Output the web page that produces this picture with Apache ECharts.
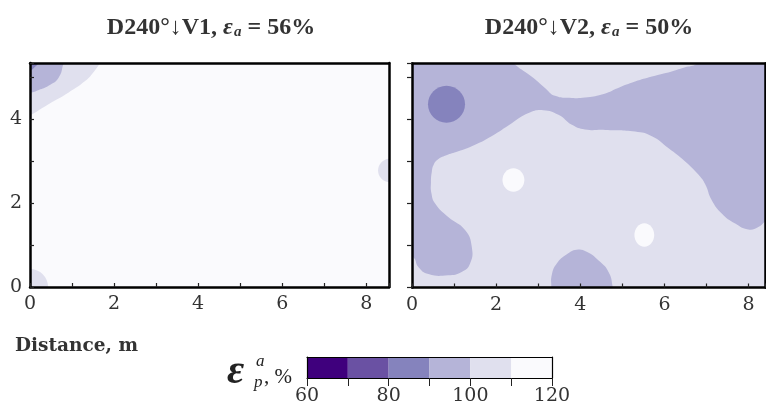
<!DOCTYPE html>
<html><head><meta charset="utf-8">
<script src="https://cdn.jsdelivr.net/npm/echarts@6/dist/echarts.min.js"></script>
<style>html,body{margin:0;padding:0;background:#fff}#c{width:766px;height:412px}</style>
</head><body><div id="c"></div>
<script>
// ---- data ----
const levels = [60, 70, 80, 90, 100, 110, 120];
const levelColors = ['#3f007d', '#6a51a3', '#8583bd', '#b5b4d8', '#e0e0ee', '#fafafd'];
const titles = ['D240°↓V1', 'D240°↓V2'];
const epsA = ['56%', '50%'];
const xMax = [8.54, 8.4];
const yMax = 5.33;

// panel V1 : background level index and contour regions (x, y in metres)
const v1Background = 5;
const v1Polygons = [
  {level: 4, points: [[-0.6,5.7],[1.8,5.7],[1.72,5.40],[1.67,5.33],[1.50,5.10],[1.31,4.90],[0.92,4.63],[0.44,4.35],[0.05,4.11],[-0.2,3.98],[-0.6,3.8]]},
  {level: 3, points: [[-0.6,5.7],[0.9,5.7],[0.82,5.40],[0.80,5.33],[0.68,4.98],[0.44,4.79],[0.21,4.69],[0,4.62],[-0.6,4.5]]},
  {level: 2, points: [[-0.6,5.7],[0.28,5.7],[0.22,5.36],[0.12,5.24],[0,5.15],[-0.6,5.0]]}
];
// ellipses: [cx, cy, rx, ry, level]
const v1Ellipses = [[0, 0, 0.43, 0.43, 4], [8.56, 2.77, 0.28, 0.28, 4]];

// panel V2
const v2Background = 3;
const v2Polygons = [
  {level: 4, points: [[2.30,5.7],[2.37,5.40],[2.45,5.30],[2.84,5.02],[3.16,4.75],[3.40,4.56],[3.80,4.51],[4.11,4.52],[4.51,4.59],[4.90,4.75],[5.30,4.90],[5.70,5.02],[6.17,5.14],[6.49,5.24],[6.73,5.30],[6.85,5.40],[6.95,5.7]]},
  {level: 4, points: [[0.45,2.50],[0.47,2.75],[0.52,2.93],[0.62,3.05],[0.80,3.14],[1.10,3.24],[1.42,3.36],[1.89,3.60],[2.37,3.91],[2.77,4.15],[3.12,4.22],[3.48,4.11],[3.80,3.87],[4.11,3.76],[4.59,3.75],[5.30,3.71],[5.70,3.60],[6.09,3.32],[6.49,3.00],[6.81,2.68],[6.97,2.45],[7.12,2.08],[7.36,1.76],[7.68,1.52],[7.99,1.38],[8.23,1.44],[8.42,1.60],[8.7,1.85],[8.9,1.5],[8.9,-0.5],[-0.5,-0.5],[-0.5,0.6],[-0.2,0.78],[0.03,0.72],[0.15,0.49],[0.39,0.32],[0.86,0.29],[1.18,0.37],[1.38,0.57],[1.42,0.97],[1.26,1.37],[0.86,1.68],[0.55,2.00],[0.46,2.25]]},
  {level: 3, points: [[3.30,-0.4],[3.31,0.0],[3.32,0.29],[3.44,0.57],[3.68,0.79],[3.91,0.90],[4.15,0.85],[4.47,0.61],[4.67,0.37],[4.76,0.06],[4.78,-0.4]]}
];
const v2Ellipses = [[0.82, 4.36, 0.44, 0.44, 2], [2.41, 2.56, 0.26, 0.28, 5], [5.52, 1.25, 0.235, 0.28, 5]];

// ---- chart ----
const tickFont = 'DejaVu Serif';
const txt = '#333';

function polyRender(polys) {
  return function (params, api) {
    const p = polys[params.dataIndex];
    return {type: 'polygon', shape: {points: p.points.map(pt => api.coord(pt)), smooth: 0.5},
            style: {fill: levelColors[p.level]}};
  };
}
function ellRender(ells) {
  return function (params, api) {
    const e = ells[params.dataIndex];
    const c = api.coord([e[0], e[1]]);
    const s = api.size([e[2], e[3]]);
    return {type: 'ellipse', shape: {cx: c[0], cy: c[1], rx: s[0], ry: s[1]}, style: {fill: levelColors[e[4]]}};
  };
}
const evenFmt = v => (Math.abs(v % 2) < 1e-9 ? String(v) : '');

function frameAxis(gridIndex, pos, min, max, w) {
  return {gridIndex, type: 'value', position: pos, min, max, z: 10,
    axisLine: {show: true, onZero: false, lineStyle: {color: '#000', width: w}},
    axisTick: {show: false}, axisLabel: {show: false}, splitLine: {show: false}};
}

const xAxes = [], yAxes = [];
[0, 1].forEach(g => {
  xAxes.push({gridIndex: g, type: 'value', position: 'bottom', min: 0, max: xMax[g], interval: 1, z: 10,
    axisLine: {show: true, onZero: false, lineStyle: {color: '#000', width: 2.5}},
    axisTick: {show: true, inside: true, length: 4, lineStyle: {color: '#222', width: 1.2}},
    axisLabel: {show: true, margin: 8, fontFamily: tickFont, fontSize: 19, color: txt, formatter: evenFmt},
    splitLine: {show: false}});
  xAxes.push(frameAxis(g, 'top', 0, xMax[g], 2.5));
  yAxes.push({gridIndex: g, type: 'value', position: 'left', min: 0, max: yMax, interval: 1, z: 10,
    axisLine: {show: true, onZero: false, lineStyle: {color: '#000', width: 2.5}},
    axisTick: {show: true, inside: g === 0, length: g === 0 ? 4 : 5, lineStyle: {color: '#222', width: 1.2}},
    axisLabel: {show: g === 0, margin: 8, fontFamily: tickFont, fontSize: 19, color: txt, formatter: evenFmt},
    splitLine: {show: false}});
  yAxes.push(frameAxis(g, 'right', 0, yMax, 2.5));
});
// colorbar axes
xAxes.push({gridIndex: 2, type: 'value', position: 'bottom', min: levels[0], max: levels[levels.length - 1], interval: 10, z: 10,
  axisLine: {show: true, onZero: false, lineStyle: {color: '#000', width: 1.2}},
  axisTick: {show: true, inside: false, length: 8, lineStyle: {color: '#222', width: 1}},
  axisLabel: {show: true, margin: 9, fontFamily: tickFont, fontSize: 19, color: txt, formatter: v => (v % 20 === 0 ? String(v) : '')},
  splitLine: {show: false}});
xAxes.push(frameAxis(2, 'top', levels[0], levels[levels.length - 1], 1.2));
yAxes.push(frameAxis(2, 'left', 0, 1, 1.2));
yAxes.push(frameAxis(2, 'right', 0, 1, 1.2));

function titleText(i) {
  return '{b|' + titles[i] + ', }{e|ε}{s|a}{b| = ' + epsA[i] + '}';
}
const titleRich = {
  b: {fontFamily: 'Liberation Serif', fontWeight: 'bold', fontSize: 24, lineHeight: 27, color: txt},
  e: {fontFamily: 'Liberation Serif', fontWeight: 'bold', fontStyle: 'italic', fontSize: 24, lineHeight: 27, color: txt},
  s: {fontFamily: 'Liberation Serif', fontWeight: 'bold', fontStyle: 'italic', fontSize: 15, lineHeight: 17, padding: [10, 0, 0, 1], color: txt}
};

const option = {
  animation: false,
  title: [
    {text: titleText(0), left: 211, top: 14, textAlign: 'center', padding: 0, textStyle: {rich: titleRich}},
    {text: titleText(1), left: 589, top: 14, textAlign: 'center', padding: 0, textStyle: {rich: titleRich}}
  ],
  grid: [
    {left: 30, top: 63, width: 359, height: 224, show: true, backgroundColor: levelColors[v1Background], borderWidth: 0, containLabel: false, outerBoundsMode: 'none'},
    {left: 412, top: 63.5, width: 353.5, height: 224, show: true, backgroundColor: levelColors[v2Background], borderWidth: 0, containLabel: false, outerBoundsMode: 'none'},
    {left: 307, top: 357, width: 245, height: 21, containLabel: false, outerBoundsMode: 'none'}
  ],
  xAxis: xAxes,
  yAxis: yAxes,
  series: [
    {type: 'custom', xAxisIndex: 0, yAxisIndex: 0, clip: true, silent: true, renderItem: polyRender(v1Polygons), data: v1Polygons.map((p, i) => [i, p.level])},
    {type: 'custom', xAxisIndex: 0, yAxisIndex: 0, clip: true, silent: true, renderItem: ellRender(v1Ellipses), data: v1Ellipses.map(e => [e[0], e[1]])},
    {type: 'custom', xAxisIndex: 2, yAxisIndex: 2, clip: true, silent: true, renderItem: polyRender(v2Polygons), data: v2Polygons.map((p, i) => [i, p.level])},
    {type: 'custom', xAxisIndex: 2, yAxisIndex: 2, clip: true, silent: true, renderItem: ellRender(v2Ellipses), data: v2Ellipses.map(e => [e[0], e[1]])},
    {type: 'custom', xAxisIndex: 4, yAxisIndex: 4, clip: true, silent: true,
      renderItem: function (params, api) {
        const a = api.coord([api.value(0), 1]);
        const b = api.coord([api.value(1), 0]);
        return {type: 'rect', shape: {x: a[0], y: a[1], width: b[0] - a[0], height: b[1] - a[1]}, style: {fill: levelColors[params.dataIndex]}};
      },
      data: levels.slice(0, -1).map((v, i) => [v, levels[i + 1]])}
  ],
  graphic: [
    {type: 'text', x: 15, y: 346, style: {text: 'Distance, m', font: 'bold 18.5px "DejaVu Serif"', fill: txt, verticalAlign: 'middle'}},
    {type: 'text', x: 227, y: 372, style: {text: 'ε', font: 'italic bold 42px "Liberation Serif"', fill: '#222', verticalAlign: 'middle'}},
    {type: 'text', x: 256, y: 362, style: {text: 'a', font: 'italic 17px "Liberation Serif"', fill: '#222', verticalAlign: 'middle'}},
    {type: 'text', x: 254, y: 383, style: {text: 'p', font: 'italic 17px "Liberation Serif"', fill: '#222', verticalAlign: 'middle'}},
    {type: 'text', x: 264, y: 377, style: {text: ', %', font: '21px "Liberation Serif"', fill: '#222', verticalAlign: 'middle'}}
  ]
};
const chart = echarts.init(document.getElementById('c'));
chart.setOption(option);
</script>
</body></html>
